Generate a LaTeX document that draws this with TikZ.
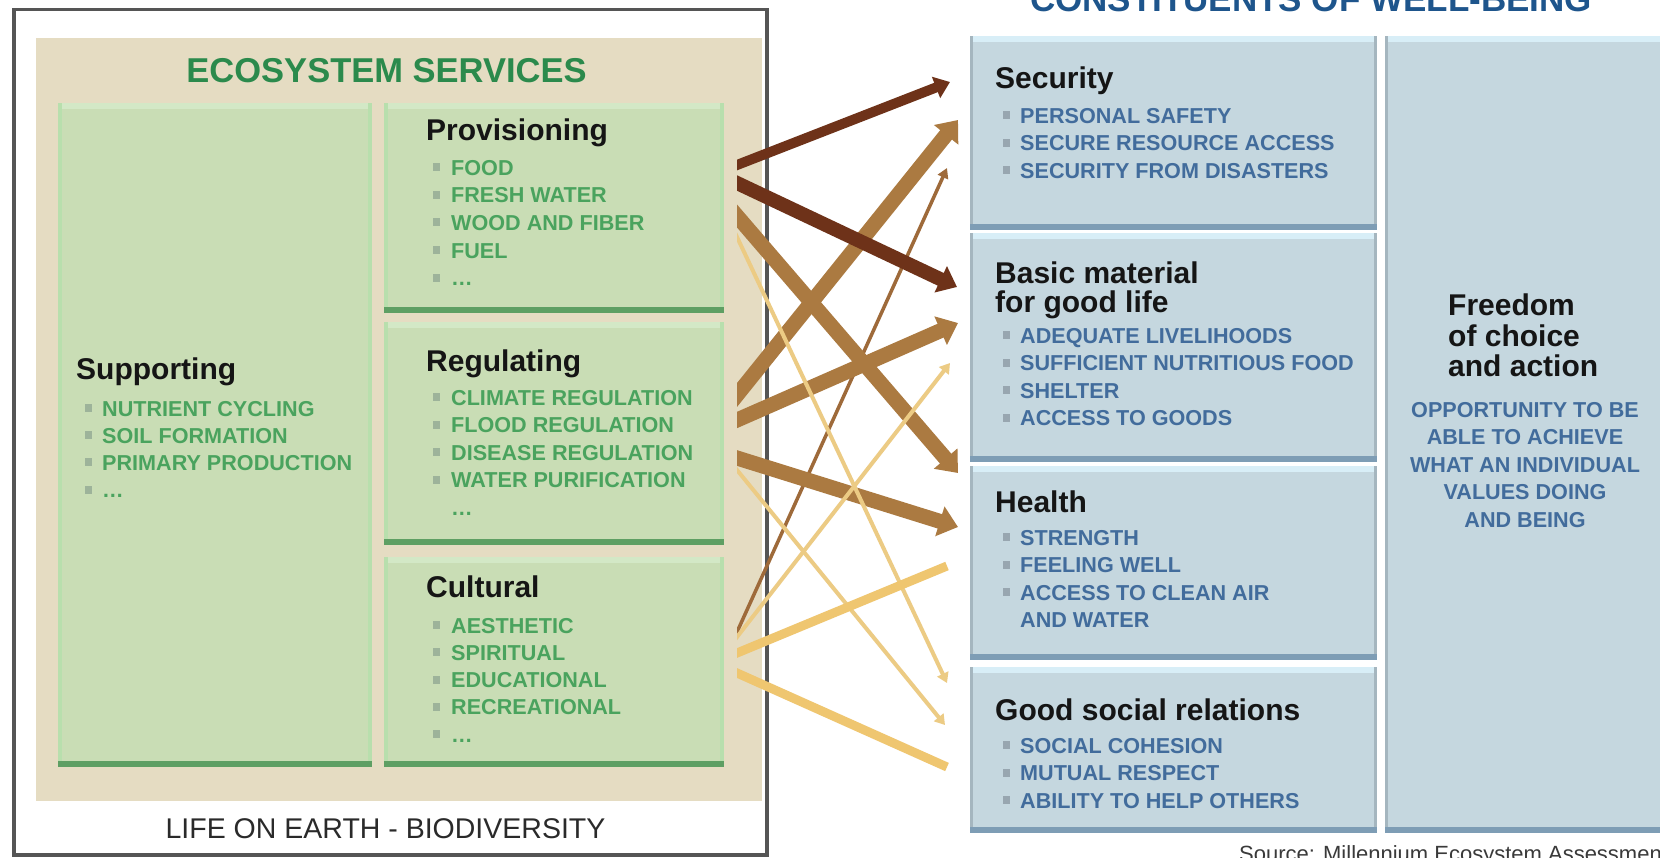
\documentclass[tikz,border=0pt]{standalone}
\usepackage{fontspec}
\setmainfont{Liberation Sans}
\usetikzlibrary{arrows.meta,calc}
\definecolor{beige}{HTML}{E5DCC2}
\definecolor{gfill}{HTML}{C9DDB5}
\definecolor{gedge}{HTML}{B8DFAD}
\definecolor{gtop}{HTML}{D3E8C6}
\definecolor{gdark}{HTML}{5E9F63}
\definecolor{gtitle}{HTML}{2B8A4C}
\definecolor{gtext}{HTML}{4AA35E}
\definecolor{gbulc}{HTML}{9DB39A}
\definecolor{bfill}{HTML}{C5D7DF}
\definecolor{btop}{HTML}{D8EEF7}
\definecolor{bedge}{HTML}{A5B6BF}
\definecolor{bdark}{HTML}{7E9DB5}
\definecolor{btext}{HTML}{426C9C}
\definecolor{btitle}{HTML}{1E558C}
\definecolor{bbulc}{HTML}{98A6B0}
\definecolor{hdrcol}{HTML}{151515}
\definecolor{dbrown}{HTML}{6E3219}
\definecolor{mbrown}{HTML}{AB7A41}
\definecolor{tbrown}{HTML}{9E6A3A}
\definecolor{tanc}{HTML}{EFC670}
\definecolor{ltan}{HTML}{ECCB84}
\definecolor{framec}{HTML}{555555}
\definecolor{lifec}{HTML}{2A2A2A}
\definecolor{srcc}{HTML}{3A3A3A}
\begin{document}
\begin{tikzpicture}[x=1pt,y=-1pt,
  hdr/.style={anchor=base west, inner sep=0pt, font=\bfseries\fontsize{30}{34}\selectfont, text=hdrcol},
  gitem/.style={anchor=base west, inner sep=0pt, font=\bfseries\fontsize{21.6}{26}\selectfont, text=gtext},
  bitem/.style={anchor=base west, inner sep=0pt, font=\bfseries\fontsize{21.6}{26}\selectfont, text=btext},
  bcitem/.style={anchor=base, inner sep=0pt, font=\bfseries\fontsize{21.6}{26}\selectfont, text=btext},
  gbox/.style={anchor=north west, inner sep=0pt, outer sep=0pt, fill=gfill, path picture={
     \fill[gtop] (path picture bounding box.north west) rectangle ([yshift=-6pt]path picture bounding box.north east);
     \fill[gedge] (path picture bounding box.north west) rectangle ([xshift=4pt]path picture bounding box.south west);
     \fill[gedge] (path picture bounding box.north east) rectangle ([xshift=-4pt]path picture bounding box.south east);
     \fill[gdark] (path picture bounding box.south west) rectangle ([yshift=6pt]path picture bounding box.south east);}},
  bbox/.style={anchor=north west, inner sep=0pt, outer sep=0pt, fill=bfill, path picture={
     \fill[btop] (path picture bounding box.north west) rectangle ([yshift=-6pt]path picture bounding box.north east);
     \fill[bedge] (path picture bounding box.north west) rectangle ([xshift=3pt]path picture bounding box.south west);
     \fill[bedge] (path picture bounding box.north east) rectangle ([xshift=-3pt]path picture bounding box.south east);
     \fill[bdark] (path picture bounding box.south west) rectangle ([yshift=6pt]path picture bounding box.south east);}},
  darkA/.style={draw=dbrown, line width=10pt, -{Triangle[width=22pt,length=15pt]}},
  darkB/.style={draw=dbrown, line width=14pt, -{Triangle[width=28pt,length=18pt]}},
  midA/.style={draw=mbrown, line width=15pt, -{Triangle[width=30pt,length=19pt]}},
  thinbrown/.style={draw=tbrown, line width=3.5pt, -{Triangle[width=11pt,length=10pt]}},
  thintan/.style={draw=ltan, line width=4pt, -{Triangle[width=12pt,length=10pt]}},
  tanband/.style={draw=tanc, line width=9pt}
]
\useasboundingbox (0,0) rectangle (1660,857);
\fill[white] (0,0) rectangle (1660,857);

% ---------- left panel ----------
\draw[framec, line width=3.5pt] (14,9.5) rectangle (767,855);
\fill[beige] (36,38) rectangle (762,801);
\node[anchor=base, inner sep=0pt, font=\bfseries\fontsize{34.5}{38}\selectfont, text=gtitle] (es) at (386.5,82) {ECOSYSTEM SERVICES};

\node[gbox, minimum width=314pt, minimum height=664pt] (supp) at (58,103) {};
\node[gbox, minimum width=340pt, minimum height=210pt] (prov) at (384,103) {};
\node[gbox, minimum width=340pt, minimum height=223pt] (reg) at (384,322) {};
\node[gbox, minimum width=340pt, minimum height=210pt] (cult) at (384,557) {};

\node[hdr] (provh) at (426,140) {Provisioning};
\foreach \t [count=\k from 0] in {FOOD,FRESH WATER,WOOD AND FIBER,FUEL,\ldots}{
  \fill[gbulc] (433,{175+27.7*\k-4}) rectangle ++(7,-8);
  \node[gitem] (prov-\k) at (451,{175+27.7*\k}) {\t};
}
\node[hdr] (regh) at (426,371) {Regulating};
\foreach \t [count=\k from 0] in {CLIMATE REGULATION,FLOOD REGULATION,DISEASE REGULATION,WATER PURIFICATION}{
  \fill[gbulc] (433,{405+27.5*\k-4}) rectangle ++(7,-8);
  \node[gitem] (reg-\k) at (451,{405+27.5*\k}) {\t};
}
\node[gitem] (reg-dots) at (451,515) {\ldots};
\node[hdr] (culth) at (426,597) {Cultural};
\foreach \t [count=\k from 0] in {AESTHETIC,SPIRITUAL,EDUCATIONAL,RECREATIONAL,\ldots}{
  \fill[gbulc] (433,{633+27.3*\k-4}) rectangle ++(7,-8);
  \node[gitem] (cult-\k) at (451,{633+27.3*\k}) {\t};
}
\node[hdr] (supph) at (76,379) {Supporting};
\foreach \t [count=\k from 0] in {NUTRIENT CYCLING,SOIL FORMATION,PRIMARY PRODUCTION,\ldots}{
  \fill[gbulc] (85,{416+27.2*\k-4}) rectangle ++(7,-8);
  \node[gitem] (supp-\k) at (102,{416+27.2*\k}) {\t};
}
\node[anchor=base, inner sep=0pt, font=\fontsize{28.5}{32}\selectfont, text=lifec] (life) at (385.5,838) {LIFE ON EARTH - BIODIVERSITY};

% ---------- right panel ----------
\node[anchor=base, inner sep=0pt, font=\bfseries\fontsize{35}{38}\selectfont, text=btitle] (cw) at (1311,11) {CONSTITUENTS OF WELL-BEING};

\node[bbox, minimum width=407pt, minimum height=194pt] (sec) at (970,36) {};
\node[bbox, minimum width=407pt, minimum height=229pt] (basic) at (970,233) {};
\node[bbox, minimum width=407pt, minimum height=194pt] (health) at (970,466) {};
\node[bbox, minimum width=407pt, minimum height=166pt] (social) at (970,667) {};
\node[bbox, minimum width=285pt, minimum height=797pt] (free) at (1385,36) {};

\node[hdr] (sech) at (995,88) {Security};
\foreach \t [count=\k from 0] in {PERSONAL SAFETY,SECURE RESOURCE ACCESS,SECURITY FROM DISASTERS}{
  \fill[bbulc] (1003,{123+27.5*\k-4}) rectangle ++(7,-8);
  \node[bitem] (sec-\k) at (1020,{123+27.5*\k}) {\t};
}
\node[hdr] (basich1) at (995,283) {Basic material};
\node[hdr] (basich2) at (995,312) {for good life};
\foreach \t [count=\k from 0] in {ADEQUATE LIVELIHOODS,SUFFICIENT NUTRITIOUS FOOD,SHELTER,ACCESS TO GOODS}{
  \fill[bbulc] (1003,{343+27.5*\k-4}) rectangle ++(7,-8);
  \node[bitem] (basic-\k) at (1020,{343+27.5*\k}) {\t};
}
\node[hdr] (healthh) at (995,512) {Health};
\foreach \t [count=\k from 0] in {STRENGTH,FEELING WELL,ACCESS TO CLEAN AIR}{
  \fill[bbulc] (1003,{545+27.5*\k-4}) rectangle ++(7,-8);
  \node[bitem] (health-\k) at (1020,{545+27.5*\k}) {\t};
}
\node[bitem] (health-3) at (1020,627.5) {AND WATER};
\node[hdr] (socialh) at (995,720) {Good social relations};
\foreach \t [count=\k from 0] in {SOCIAL COHESION,MUTUAL RESPECT,ABILITY TO HELP OTHERS}{
  \fill[bbulc] (1003,{753+27.5*\k-4}) rectangle ++(7,-8);
  \node[bitem] (social-\k) at (1020,{753+27.5*\k}) {\t};
}
\node[hdr] (freeh1) at (1448,315) {Freedom};
\node[hdr] (freeh2) at (1448,346) {of choice};
\node[hdr] (freeh3) at (1448,376) {and action};
\foreach \t [count=\k from 0] in {OPPORTUNITY TO BE,ABLE TO ACHIEVE,WHAT AN INDIVIDUAL,VALUES DOING,AND BEING}{
  \node[bcitem] (free-\k) at (1525,{417+27.5*\k}) {\t};
}
\node[anchor=base west, inner sep=0pt, font=\fontsize{22}{26}\selectfont, text=srcc] (src) at (1239,861) {Source: Millennium Ecosystem Assessment};

% ---------- arrows ----------
\coordinate (pv1) at (737,165);  \coordinate (hs1) at (950,82);
\coordinate (pv2) at (737,183);  \coordinate (hb2) at (957,287);
\coordinate (pv3) at (737,216);  \coordinate (hh3) at (958,473);
\coordinate (rg4) at (737,395);  \coordinate (hs4) at (958,120);
\coordinate (rg5) at (737,420);  \coordinate (hb5) at (958,323);
\coordinate (rg6) at (737,458);  \coordinate (hh6) at (958,527);
\coordinate (cu7) at (737,632);  \coordinate (hs7) at (947,168);
\coordinate (cu8) at (737,637);  \coordinate (hb8) at (950,363);
\coordinate (pv9) at (737,237);  \coordinate (hg9) at (947,683);
\coordinate (rg10) at (737,470); \coordinate (hg10) at (945,725);
\coordinate (cu11) at (737,653); \coordinate (hh11) at (947,566);
\coordinate (cu12) at (737,673); \coordinate (hg12) at (947,767);
\begin{scope}
\clip (737,0) rectangle (1000,857);
\draw[thinbrown] ($(cu7)!-20pt!(hs7)$) -- (hs7);
\draw[midA] ($(pv3)!-20pt!(hh3)$) -- (hh3);
\draw[midA] ($(rg4)!-20pt!(hs4)$) -- (hs4);
\draw[midA] ($(rg5)!-20pt!(hb5)$) -- (hb5);
\draw[midA] ($(rg6)!-20pt!(hh6)$) -- (hh6);
\draw[darkA] ($(pv1)!-20pt!(hs1)$) -- (hs1);
\draw[darkB] ($(pv2)!-20pt!(hb2)$) -- (hb2);
\draw[thintan] ($(cu8)!-20pt!(hb8)$) -- (hb8);
\draw[thintan] ($(pv9)!-20pt!(hg9)$) -- (hg9);
\draw[thintan] ($(rg10)!-20pt!(hg10)$) -- (hg10);
\draw[tanband] ($(cu11)!-20pt!(hh11)$) -- (hh11);
\draw[tanband] ($(cu12)!-20pt!(hg12)$) -- (hg12);
\end{scope}
\end{tikzpicture}
\end{document}
